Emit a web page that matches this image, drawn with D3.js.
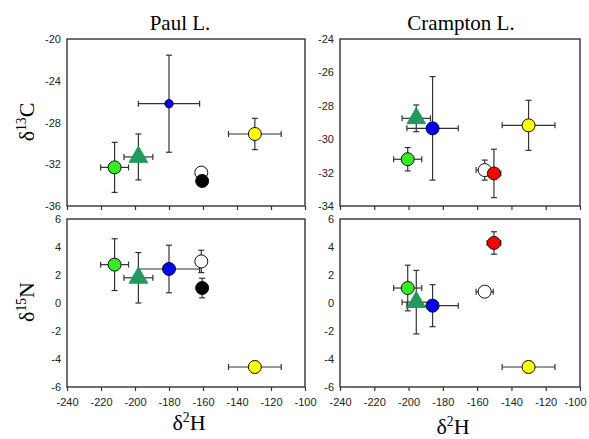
<!DOCTYPE html>
<html>
<head>
<meta charset="utf-8">
<script src="https://cdn.jsdelivr.net/npm/d3@7"></script>
<style>
  body { margin: 0; background: #fff; }
  text { font-family: Arial, "Liberation Sans", sans-serif; }
</style>
</head>
<body>
<div id="chart"></div>
<script>
// x ticks shared by all panels
var hTicks = [-240, -220, -200, -180, -160, -140, -120, -100];

// Paul L. : green circle, triangle, blue, white, black, yellow
var paulKindsC = ["green", "triangle", "blueSmall", "white", "black", "yellow"];
var paulKindsN = ["green", "triangle", "blue", "white", "black", "yellow"];
var paulH = [-212, -198, -180, -161, -160.5, -129.5];
var paulHErr = [8.2, 8.5, 18, 2, 2, 15.5];
var paulC = [-32.3, -31.3, -26.2, -32.8, -33.6, -29.1];
var paulCErr = [2.4, 2.2, 4.65, 0.4, 0.3, 1.5];
var paulN = [2.74, 1.8, 2.43, 2.97, 1.07, -4.57];
var paulNErr = [1.85, 1.8, 1.7, 0.8, 0.7, 0.4];

// Crampton L. : green circle, triangle, blue, white, red, yellow
var cramKinds = ["green", "triangle", "blue", "white", "red", "yellow"];
var cramH = [-200.5, -195.5, -186, -155.6, -150.2, -130];
var cramHErr = [8.2, 8.3, 15, 5, 4, 15.4];
var cramC = [-31.2, -28.75, -29.35, -31.85, -32.05, -29.17];
var cramCErr = [0.7, 0.8, 3.1, 0.6, 1.45, 1.5];
var cramN = [1.07, 0.06, -0.19, 0.81, 4.29, -4.57];
var cramNErr = [1.63, 2.27, 1.5, 0.3, 0.8, 0.4];

var paulCTicks = [-20, -24, -28, -32, -36];
var cramCTicks = [-24, -26, -28, -30, -32, -34];
var nTicks = [6, 4, 2, 0, -2, -4, -6];

var fills = {
  green: "#33ee22", triangle: "#229a5e", blue: "#0000ff", blueSmall: "#0000ff",
  white: "#ffffff", black: "#000000", yellow: "#ffff00", red: "#ff0000"
};

var width = 589, height = 439;
var svg = d3.select("#chart").append("svg")
  .attr("width", width).attr("height", height);

var panels = [
  { x0: 67, x1: 305, y0: 39, y1: 206, ydom: [-36, -20], yt: paulCTicks, xlab: false,
    kinds: paulKindsC, h: paulH, he: paulHErr, v: paulC, ve: paulCErr },
  { x0: 340, x1: 580, y0: 39, y1: 206, ydom: [-34, -24], yt: cramCTicks, xlab: false,
    kinds: cramKinds, h: cramH, he: cramHErr, v: cramC, ve: cramCErr },
  { x0: 67, x1: 305, y0: 219, y1: 387, ydom: [-6, 6], yt: nTicks, xlab: true,
    kinds: paulKindsN, h: paulH, he: paulHErr, v: paulN, ve: paulNErr },
  { x0: 340, x1: 580, y0: 219, y1: 387, ydom: [-6, 6], yt: nTicks, xlab: true,
    kinds: cramKinds, h: cramH, he: cramHErr, v: cramN, ve: cramNErr }
];

var plain = function (d) { return String(d); };

panels.forEach(function (p) {
  var x = d3.scaleLinear().domain([-240, -100]).range([p.x0, p.x1]);
  var y = d3.scaleLinear().domain(p.ydom).range([p.y1, p.y0]);

  var gx = svg.append("g")
    .attr("transform", `translate(0,${p.y1})`)
    .call(d3.axisBottom(x).tickValues(hTicks).tickSize(4).tickPadding(7)
      .tickFormat(p.xlab ? plain : ""));
  gx.select(".domain").remove();
  gx.selectAll(".tick line").attr("stroke", "#333").attr("stroke-width", 1.2);
  gx.selectAll(".tick text").attr("font-size", 11).attr("fill", "#222")
    .attr("dx", function (d) { return d === -100 && p.x1 > 500 ? -5 : 0; });

  var gy = svg.append("g")
    .attr("transform", `translate(${p.x0},0)`)
    .call(d3.axisLeft(y).tickValues(p.yt).tickSize(0).tickPadding(6).tickFormat(plain));
  gy.select(".domain").remove();
  gy.selectAll(".tick text").attr("font-size", 11).attr("fill", "#222");

  svg.append("rect")
    .attr("x", p.x0).attr("y", p.y0)
    .attr("width", p.x1 - p.x0).attr("height", p.y1 - p.y0)
    .attr("fill", "none").attr("stroke", "#333").attr("stroke-width", 1.4);

  var idx = d3.range(p.kinds.length);
  var eb = svg.append("g").attr("stroke", "#333").attr("stroke-width", 1.2);
  var cap = 3;
  idx.forEach(function (i) {
    var cx = x(p.h[i]), cy = y(p.v[i]);
    var xl = x(p.h[i] - p.he[i]), xr = x(p.h[i] + p.he[i]);
    var yt = y(p.v[i] + p.ve[i]), yb = y(p.v[i] - p.ve[i]);
    eb.append("line").attr("x1", xl).attr("x2", xr).attr("y1", cy).attr("y2", cy);
    eb.append("line").attr("x1", xl).attr("x2", xl).attr("y1", cy - cap).attr("y2", cy + cap);
    eb.append("line").attr("x1", xr).attr("x2", xr).attr("y1", cy - cap).attr("y2", cy + cap);
    eb.append("line").attr("x1", cx).attr("x2", cx).attr("y1", yt).attr("y2", yb);
    eb.append("line").attr("x1", cx - cap).attr("x2", cx + cap).attr("y1", yt).attr("y2", yt);
    eb.append("line").attr("x1", cx - cap).attr("x2", cx + cap).attr("y1", yb).attr("y2", yb);
  });

  idx.forEach(function (i) {
    var k = p.kinds[i];
    var cx = x(p.h[i]), cy = y(p.v[i]);
    if (k === "triangle") {
      svg.append("path")
        .attr("d", d3.symbol().type(d3.symbolTriangle).size(150)())
        .attr("transform", `translate(${cx},${cy})`)
        .attr("fill", fills[k]).attr("stroke", fills[k]);
    } else {
      svg.append("circle")
        .attr("cx", cx).attr("cy", cy)
        .attr("r", k === "blueSmall" ? 4.2 : 6.5)
        .attr("fill", fills[k]).attr("stroke", "#111").attr("stroke-width", 1);
    }
  });
});

// titles
svg.append("text").attr("x", 180).attr("y", 30).attr("text-anchor", "middle")
  .style("font-family", "'Liberation Serif', 'Times New Roman', serif")
  .attr("font-size", 21).text("Paul L.");
svg.append("text").attr("x", 461).attr("y", 30).attr("text-anchor", "middle")
  .style("font-family", "'Liberation Serif', 'Times New Roman', serif")
  .attr("font-size", 21).text("Crampton L.");

function isoLabel(g, sup, base, size) {
  var t = g.append("text")
    .style("font-family", "'Liberation Serif', 'Times New Roman', serif")
    .attr("font-size", size).attr("text-anchor", "middle");
  t.append("tspan").text("δ");
  t.append("tspan").attr("font-size", size * 0.62).attr("dy", -size * 0.38).text(sup);
  t.append("tspan").attr("dy", size * 0.38).text(base);
  return t;
}

isoLabel(svg.append("g").attr("transform", "translate(34,122) rotate(-90)"), "13", "C", 22);
isoLabel(svg.append("g").attr("transform", "translate(34,302) rotate(-90)"), "15", "N", 22);
isoLabel(svg.append("g").attr("transform", "translate(189,430)"), "2", "H", 22);
isoLabel(svg.append("g").attr("transform", "translate(453,434)"), "2", "H", 22);
</script>
</body>
</html>
